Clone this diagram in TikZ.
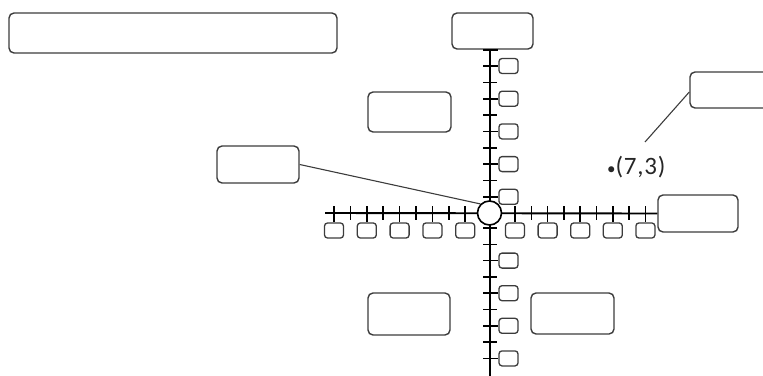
\documentclass[tikz,border=0pt]{standalone}
\usepackage{fontspec}
\setmainfont{Carlito}
\definecolor{boxgray}{HTML}{3C3C3C}
\begin{document}
\begin{tikzpicture}[x=1pt,y=-1pt,
  bigbox/.style={draw=boxgray, line width=1.4pt, rounded corners=5pt, fill=white, inner sep=0pt},
  smallbox/.style={draw=boxgray, line width=1.3pt, rounded corners=3pt, fill=white,
    minimum width=19pt, minimum height=15pt, inner sep=0pt},
  axisline/.style={line width=1.9pt, black},
  tickline/.style={line width=1.6pt, black},
  leader/.style={line width=1.1pt, boxgray}]
\useasboundingbox (0,0) rectangle (763,375);

% big boxes
\node[bigbox, minimum width=328pt, minimum height=40pt] (title) at (173,33) {};
\node[bigbox, minimum width=81pt, minimum height=36pt] (top) at (492.5,31) {};
\node[bigbox, minimum width=83pt, minimum height=40pt] (ul) at (409.5,112) {};
\node[bigbox, minimum width=82pt, minimum height=37pt] (left) at (258,164.5) {};
\node[bigbox, minimum width=80pt, minimum height=36pt] (ur) at (730,90) {};
\node[bigbox, minimum width=80pt, minimum height=37pt] (right) at (698,213.5) {};
\node[bigbox, minimum width=82pt, minimum height=42pt] (bl) at (409,314) {};
\node[bigbox, minimum width=83pt, minimum height=41pt] (br) at (572.5,313.5) {};

% axes
\coordinate (hstart) at (325,213);
\coordinate (vend) at (490,376);
\draw[axisline] (hstart) -- (right.west);
\draw[axisline] (top.south -| 490,0) -- (vend);

% horizontal ticks, left part
\foreach \k in {0,...,8} {
  \pgfmathsetmacro{\tx}{334+16.4*\k}
  \pgfmathtruncatemacro{\odd}{mod(\k,2)}
  \ifnum\odd=0
    \node[smallbox] (hl\k) at (\tx,230.5) {};
    \draw[tickline] (\tx,206) -- (hl\k.north);
  \else
    \draw[tickline] (\tx,206) -- (\tx,220);
  \fi
}
% horizontal ticks, right part
\foreach \k in {0,...,8} {
  \pgfmathsetmacro{\tx}{515+16.3*\k}
  \pgfmathtruncatemacro{\odd}{mod(\k,2)}
  \ifnum\odd=0
    \node[smallbox] (hr\k) at (\tx,230.5) {};
    \draw[tickline] (\tx,206) -- (hr\k.north);
  \else
    \draw[tickline] (\tx,206) -- (\tx,220);
  \fi
}
% vertical ticks, upper part
\draw[tickline] (483,50) -- (498,50);
\foreach \k in {0,...,8} {
  \pgfmathsetmacro{\ty}{66+16.35*\k}
  \pgfmathtruncatemacro{\odd}{mod(\k,2)}
  \ifnum\odd=0
    \node[smallbox] (vu\k) at (508.5,\ty) {};
    \draw[tickline] (483,\ty) -- (vu\k.west);
  \else
    \draw[tickline] (483,\ty) -- (497,\ty);
  \fi
}
% vertical ticks, lower part
\foreach \k in {0,...,8} {
  \pgfmathsetmacro{\ty}{228+16.3*\k}
  \pgfmathtruncatemacro{\odd}{mod(\k,2)}
  \ifnum\k>0 \ifnum\odd=0
    \node[smallbox] (vd\k) at (508.5,\ty) {};
    \draw[tickline] (483,\ty) -- (vd\k.west);
  \else
    \draw[tickline] (483,\ty) -- (497,\ty);
  \fi\else
    \draw[tickline] (483,\ty) -- (497,\ty);
  \fi
}

% origin
\node[circle, draw=black, line width=1.6pt, fill=white, minimum size=24pt, inner sep=0pt] (origin) at (489.5,213) {};

% leaders
\draw[leader] (left.east) -- (origin.135);
\coordinate (pend) at (645,142);
\draw[leader] (ur.west) ++(0,2) -- (pend);

% point label
\node[anchor=west, inner sep=0pt, text=black!85, font=\fontsize{25}{28}\selectfont\addfontfeature{LetterSpace=3}] (pt) at (607,167) {{\fontsize{17}{18}\selectfont•}(7,3)};
\end{tikzpicture}
\end{document}
